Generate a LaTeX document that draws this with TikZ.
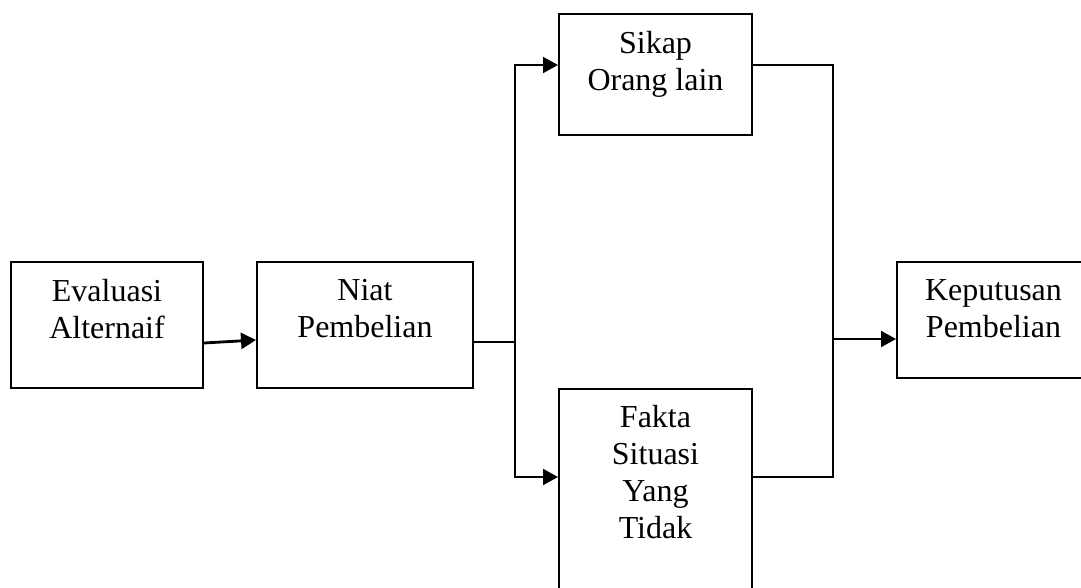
\documentclass[tikz,border=0pt]{standalone}
\usepackage{fontspec}
\setmainfont{Liberation Serif}
\usetikzlibrary{positioning, arrows.meta}

\begin{document}
\begin{tikzpicture}[
        x=1pt, y=-1pt,
        box/.style={rectangle, draw, line width=2pt, inner sep=0pt},
        boxtext/.style={inner sep=0pt, align=center, font=\fontsize{32}{37}\selectfont},
        line/.style={line width=2pt},
        arrow/.style={-{Triangle[length=15pt, width=16pt]}, line width=2pt}
    ]
    \useasboundingbox (0,0) rectangle (1081,587);
    \clip (0,0) rectangle (1081,587);

    \node[box, minimum width=192pt, minimum height=126pt] (evaluasi) at (107,325) {};
    \node[boxtext, below=18pt of evaluasi.north] (evaluasi-text) {Evaluasi\\Alternaif};

    \node[box, minimum width=216pt, minimum height=126pt] (niat) at (365,325) {};
    \node[boxtext, below=18pt of niat.north] (niat-text) {Niat\\Pembelian};

    \node[box, minimum width=193pt, minimum height=121pt] (sikap) at (655.5,74.5) {};
    \node[boxtext, below=18pt of sikap.north] (sikap-text) {Sikap\\Orang lain};

    \node[box, minimum width=193pt, minimum height=220pt] (fakta) at (655.5,499) {};
    \node[boxtext, below=17pt of fakta.north] (fakta-text) {Fakta\\Situasi\\Yang\\Tidak};

    \node[box, minimum width=193pt, minimum height=116pt] (keputusan) at (993.5,320) {};
    \node[boxtext, below=18pt of keputusan.north] (keputusan-text) {Keputusan\\Pembelian};

    \coordinate (split) at (515,342);
    \coordinate (join) at (833,339);

    \draw[arrow, line width=2.8pt] ([yshift=-18pt]evaluasi.east) -- ([yshift=-15pt]niat.west);
    \draw[line] ([yshift=-17pt]niat.east) -- (split);
    \draw[arrow] (split) |- ([yshift=9.5pt]sikap.west);
    \draw[arrow] (split) |- ([yshift=22pt]fakta.west);
    \draw[line] ([yshift=9.5pt]sikap.east) -| (join);
    \draw[line] ([yshift=22pt]fakta.east) -| (join);
    \draw[arrow] (join) -- ([yshift=-19pt]keputusan.west);

\end{tikzpicture}
\end{document}
